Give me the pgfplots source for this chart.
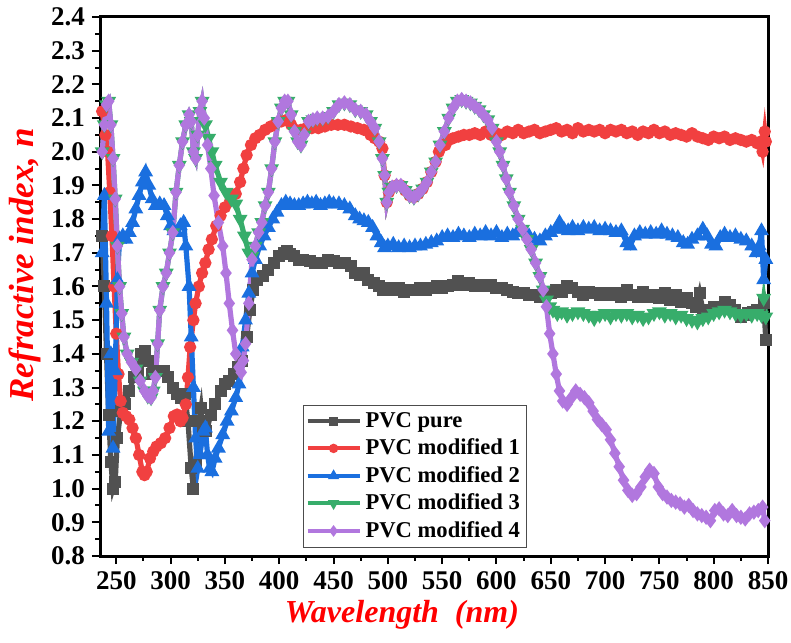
\documentclass[border=0pt]{standalone}
\usepackage{pgfplots}
\pgfplotsset{compat=1.18}
\usepackage{pgfplotstable}
\usepackage{fontspec}
\setmainfont{Liberation Serif}

\definecolor{cpure}{HTML}{515151}
\definecolor{cmodA}{HTML}{F14040}
\definecolor{cmodB}{HTML}{1A6FDF}
\definecolor{cmodC}{HTML}{37AD6B}
\definecolor{cmodD}{HTML}{B177DE}

% wavelength (nm)  refractive index n
\pgfplotstableread{
x y
237 1.75
239 1.60
241 1.40
243 1.22
245 1.08
247 1.00
249 1.02
251 1.15
254 1.23
258 1.25
262 1.29
266 1.33
270 1.35
273 1.40
276 1.41
279 1.38
283 1.34
288 1.35
294 1.35
298 1.33
302 1.30
306 1.28
310 1.27
313 1.28
316 1.20
319 1.06
321 1.00
323 1.07
326 1.20
328 1.24
330 1.17
333 1.17
337 1.22
341 1.25
346 1.29
350 1.31
354 1.32
358 1.34
362 1.36
366 1.38
370 1.45
373 1.53
376 1.59
380 1.62
385 1.63
390 1.65
395 1.67
400 1.69
404 1.70
407 1.705
410 1.695
414 1.69
418 1.68
422 1.68
428 1.675
433 1.67
439 1.67
445 1.68
450 1.675
455 1.67
461 1.67
466 1.66
470 1.64
474 1.635
478 1.64
482 1.62
487 1.61
492 1.60
496 1.59
500 1.595
505 1.59
510 1.595
515 1.585
520 1.59
525 1.59
530 1.595
535 1.59
540 1.595
545 1.60
550 1.595
555 1.60
560 1.605
565 1.615
570 1.605
575 1.61
580 1.60
585 1.605
590 1.60
595 1.605
600 1.595
605 1.595
610 1.59
615 1.585
620 1.58
625 1.58
630 1.575
635 1.575
640 1.57
645 1.58
650 1.58
655 1.59
660 1.585
665 1.60
670 1.595
675 1.585
680 1.575
685 1.585
690 1.58
695 1.575
700 1.58
705 1.575
710 1.58
715 1.57
720 1.59
725 1.575
730 1.57
735 1.585
740 1.57
745 1.575
750 1.565
755 1.58
760 1.56
765 1.575
770 1.555
775 1.565
780 1.55
784 1.54
787 1.58
790 1.53
795 1.525
800 1.54
805 1.535
810 1.555
815 1.545
820 1.53
825 1.51
828 1.515
832 1.52
836 1.525
840 1.53
843 1.525
846 1.55
848 1.44
}\tpure

\pgfplotstableread{
x y
237 2.12
240 2.05
242 2.00
244 1.88
246 1.75
248 1.60
250 1.46
252 1.34
254 1.26
256 1.225
259 1.215
262 1.205
265 1.18
268 1.15
271 1.10
274 1.05
276 1.04
278 1.05
281 1.09
284 1.11
287 1.125
291 1.135
295 1.15
299 1.18
303 1.215
306 1.22
309 1.20
311 1.21
314 1.25
316 1.33
318 1.42
321 1.50
323 1.55
326 1.60
329 1.64
332 1.67
335 1.71
338 1.74
342 1.78
346 1.81
350 1.835
355 1.855
360 1.875
364 1.91
367 1.95
370 1.99
374 2.02
378 2.04
382 2.05
387 2.065
392 2.075
397 2.085
402 2.09
407 2.095
411 2.08
415 2.065
420 2.065
425 2.07
430 2.07
436 2.07
442 2.075
448 2.08
454 2.08
460 2.08
466 2.075
472 2.07
478 2.065
484 2.05
488 2.04
492 2.03
495 2.01
497 1.93
499 1.85
501 1.88
504 1.895
508 1.90
512 1.90
516 1.885
520 1.87
524 1.865
528 1.875
532 1.89
536 1.91
540 1.94
544 1.97
547 2.00
550 2.02
553 2.02
556 2.035
560 2.04
565 2.045
570 2.05
575 2.05
580 2.055
585 2.05
590 2.06
595 2.05
600 2.055
605 2.05
610 2.06
615 2.055
620 2.065
625 2.055
630 2.06
635 2.065
640 2.055
645 2.06
650 2.065
655 2.07
660 2.06
665 2.065
670 2.055
675 2.07
680 2.06
685 2.065
690 2.06
695 2.065
700 2.055
705 2.065
710 2.06
715 2.065
720 2.055
725 2.06
730 2.05
735 2.06
740 2.055
745 2.065
750 2.055
755 2.06
760 2.05
765 2.055
770 2.05
775 2.045
780 2.055
785 2.045
790 2.04
795 2.035
800 2.045
805 2.04
810 2.045
815 2.035
820 2.04
825 2.035
830 2.03
835 2.035
840 2.025
843 2.03
845 2.00
847 2.06
848 2.03
}\tmodA

\pgfplotstableread{
x y
237 1.70
239 1.87
241 1.55
243 1.17
245 1.40
247 1.12
249 1.35
251 1.62
253 1.74
256 1.75
259 1.74
262 1.76
265 1.79
268 1.83
271 1.87
274 1.91
277 1.94
280 1.90
283 1.86
286 1.84
290 1.845
294 1.84
297 1.81
300 1.78
303 1.765
306 1.76
309 1.78
312 1.79
314 1.72
317 1.60
319 1.45
321 1.30
323 1.15
325 1.06
327 1.10
330 1.17
332 1.18
334 1.10
336 1.06
338 1.05
341 1.09
344 1.12
348 1.16
352 1.20
356 1.23
360 1.27
363 1.31
366 1.42
369 1.50
372 1.58
375 1.64
378 1.68
382 1.72
386 1.75
390 1.775
394 1.80
398 1.82
402 1.84
406 1.85
410 1.845
414 1.84
418 1.84
422 1.845
426 1.85
430 1.845
434 1.85
438 1.84
442 1.845
446 1.85
450 1.845
455 1.845
460 1.84
465 1.83
470 1.81
474 1.80
478 1.795
482 1.79
486 1.775
490 1.75
494 1.73
497 1.715
500 1.72
505 1.725
510 1.715
515 1.72
520 1.715
525 1.72
530 1.72
535 1.725
540 1.73
545 1.735
550 1.745
555 1.75
560 1.745
565 1.755
570 1.75
575 1.745
580 1.755
585 1.75
590 1.76
595 1.75
600 1.76
605 1.745
610 1.755
615 1.75
620 1.765
625 1.76
630 1.75
635 1.74
640 1.735
645 1.75
650 1.76
655 1.77
658 1.79
662 1.77
666 1.765
670 1.775
675 1.765
680 1.775
685 1.77
690 1.775
695 1.765
700 1.77
705 1.765
710 1.76
715 1.765
720 1.73
723 1.72
727 1.75
732 1.76
737 1.755
742 1.76
747 1.755
752 1.765
757 1.755
762 1.75
767 1.745
772 1.73
776 1.725
780 1.74
785 1.75
790 1.77
794 1.75
798 1.725
802 1.72
806 1.745
810 1.755
815 1.745
820 1.75
825 1.74
830 1.735
835 1.72
839 1.70
842 1.72
844 1.765
846 1.62
848 1.68
}\tmodB

\pgfplotstableread{
x y
237 2.00
239 2.08
241 2.14
243 2.15
245 2.08
247 1.98
249 1.86
251 1.72
253 1.60
255 1.52
257 1.45
260 1.40
264 1.375
268 1.355
272 1.32
276 1.29
279 1.275
282 1.27
284 1.29
286 1.33
288 1.43
290 1.53
293 1.60
296 1.64
299 1.70
302 1.76
305 1.88
308 1.96
311 2.03
314 2.08
317 2.11
319 2.09
321 2.00
323 1.98
325 2.05
327 2.12
329 2.15
332 2.08
335 2.04
338 2.00
341 1.96
346 1.91
351 1.88
356 1.86
360 1.845
364 1.80
368 1.75
372 1.70
375 1.69
378 1.72
381 1.76
384 1.79
387 1.84
390 1.88
393 1.95
396 2.03
399 2.09
402 2.13
405 2.15
408 2.15
411 2.11
414 2.06
417 2.03
420 2.02
423 2.05
427 2.09
431 2.095
435 2.10
440 2.10
445 2.105
450 2.12
455 2.14
460 2.145
465 2.14
470 2.125
475 2.12
480 2.11
484 2.09
488 2.07
492 2.03
495 1.98
497 1.93
499 1.85
501 1.88
504 1.895
508 1.90
512 1.90
516 1.885
520 1.87
524 1.865
528 1.875
532 1.89
536 1.91
540 1.94
544 1.97
548 2.02
552 2.06
556 2.10
560 2.13
564 2.15
568 2.155
572 2.15
576 2.145
580 2.135
584 2.125
588 2.11
592 2.095
596 2.07
600 2.03
603 2.00
606 1.96
609 1.92
612 1.88
616 1.84
620 1.80
624 1.77
628 1.74
632 1.71
636 1.67
640 1.63
643 1.59
646 1.56
649 1.54
652 1.53
656 1.52
660 1.525
665 1.515
670 1.52
675 1.525
680 1.52
685 1.515
690 1.505
695 1.515
700 1.52
705 1.51
710 1.52
715 1.515
720 1.52
725 1.51
730 1.515
735 1.505
740 1.51
745 1.52
750 1.525
755 1.515
760 1.52
765 1.51
770 1.515
775 1.505
780 1.50
785 1.495
790 1.505
795 1.51
800 1.52
805 1.525
810 1.53
815 1.525
820 1.52
825 1.515
830 1.52
835 1.515
840 1.52
844 1.515
846 1.565
848 1.51
}\tmodC

\pgfplotstableread{
x y
237 2.00
239 2.08
241 2.14
243 2.15
245 2.08
247 1.98
249 1.86
251 1.72
253 1.60
255 1.52
257 1.45
260 1.40
264 1.375
268 1.355
272 1.32
276 1.29
279 1.275
282 1.27
284 1.29
286 1.33
288 1.43
290 1.53
293 1.60
296 1.64
299 1.70
302 1.76
305 1.88
308 1.96
311 2.03
314 2.08
317 2.11
319 2.09
321 2.00
323 1.98
325 2.05
327 2.12
329 2.15
331 2.10
334 2.02
337 1.95
340 1.87
344 1.79
348 1.72
351 1.64
354 1.55
357 1.47
360 1.40
363 1.36
365 1.345
367 1.38
369 1.43
372 1.55
375 1.68
378 1.72
381 1.76
384 1.79
387 1.84
390 1.88
393 1.95
396 2.03
399 2.09
402 2.13
405 2.15
408 2.15
411 2.11
414 2.06
417 2.03
420 2.02
423 2.05
427 2.09
431 2.095
435 2.10
440 2.10
445 2.105
450 2.12
455 2.14
460 2.145
465 2.14
470 2.125
475 2.12
480 2.11
484 2.09
488 2.07
492 2.03
495 1.98
497 1.93
499 1.85
501 1.88
504 1.895
508 1.90
512 1.90
516 1.885
520 1.87
524 1.865
528 1.875
532 1.89
536 1.91
540 1.94
544 1.97
548 2.02
552 2.06
556 2.10
560 2.13
564 2.15
568 2.155
572 2.15
576 2.145
580 2.135
584 2.125
588 2.11
592 2.095
596 2.07
600 2.03
603 2.00
606 1.96
609 1.92
612 1.88
616 1.84
620 1.80
624 1.77
628 1.74
632 1.71
636 1.67
640 1.63
643 1.59
646 1.54
649 1.46
652 1.40
655 1.34
658 1.29
661 1.26
665 1.25
669 1.27
673 1.29
677 1.28
681 1.27
685 1.255
689 1.23
693 1.205
697 1.19
701 1.175
705 1.145
709 1.105
713 1.065
717 1.025
721 0.995
725 0.98
729 0.985
733 1.005
737 1.035
741 1.055
745 1.045
749 1.005
753 0.985
757 0.975
761 0.965
765 0.96
769 0.955
773 0.945
777 0.95
781 0.935
785 0.925
789 0.92
793 0.915
797 0.905
801 0.935
805 0.94
809 0.925
813 0.92
817 0.935
821 0.92
825 0.915
829 0.91
833 0.925
837 0.93
841 0.935
845 0.945
847 0.905
}\tmodD

\begin{document}
\begin{tikzpicture}[x=0.5pt,y=0.5pt]
\useasboundingbox (-100,-86) rectangle (691,556);
\begin{axis}[
  at={(0,0)}, anchor=south west,
  scale only axis,
  width=334pt, height=269.5pt,
  xmin=235, xmax=850, ymin=0.8, ymax=2.4,
  xtick={250,300,...,850},
  ytick={0.8,0.9,...,2.41},
  minor x tick num=1, minor y tick num=1,
  xtick pos=bottom, ytick pos=left,
  tick align=outside,
  major tick length=4pt, minor tick length=2.4pt,
  every tick/.style={black, line width=1pt},
  axis line style={line width=1.5pt},
  /pgf/number format/assume math mode=true,
  tick label style={font=\bfseries\fontsize{13.5}{15}\selectfont, black},
  yticklabel style={/pgf/number format/.cd, fixed, fixed zerofill, precision=1},
  xticklabel style={/pgf/number format/.cd, fixed, precision=0, 1000 sep={}},
  xlabel={\textbf{\textit{Wavelength\ \ (nm)}}},
  ylabel={\textbf{\textit{Refractive index, n}}},
  xlabel style={font=\fontsize{16}{18}\selectfont, red, at={(axis description cs:0.452,-0.11)}, anchor=center},
  ylabel style={font=\fontsize{17.5}{19}\selectfont, red, at={(axis description cs:-0.112,0.54)}, anchor=center, rotate=0},
  legend style={at={(rel axis cs:0.304,0.015)}, anchor=south west,
    draw=black!70, line width=0.5pt, font=\bfseries\fontsize{11.3}{13}\selectfont,
    row sep=0.3pt, inner xsep=1pt, inner ysep=1.5pt},
  legend cell align=left,
  legend image code/.code={%
    \draw[#1, line width=2pt, mark size=1.3pt, mark repeat=2, mark phase=2]
      plot coordinates {(0pt,0pt) (13pt,0pt) (26pt,0pt)};},
  every axis plot/.append style={line width=2.6pt, mark size=1.7pt},
]
\addplot[cpure, mark=square*, mark options={fill=cpure, draw=cpure}] table {\tpure};
\addlegendentry{PVC pure}
\addplot[cmodA, mark=*, mark options={fill=cmodA, draw=cmodA}] table {\tmodA};
\addlegendentry{PVC modified 1}
\addplot[cmodB, mark=triangle*, mark options={fill=cmodB, draw=cmodB}] table {\tmodB};
\addlegendentry{PVC modified 2}
\addplot[cmodC, mark=triangle*, mark options={fill=cmodC, draw=cmodC, rotate=180}] table {\tmodC};
\addlegendentry{PVC modified 3}
\addplot[cmodD, mark=diamond*, mark options={fill=cmodD, draw=cmodD}] table {\tmodD};
\addlegendentry{PVC modified 4}
\end{axis}
\end{tikzpicture}
\end{document}
